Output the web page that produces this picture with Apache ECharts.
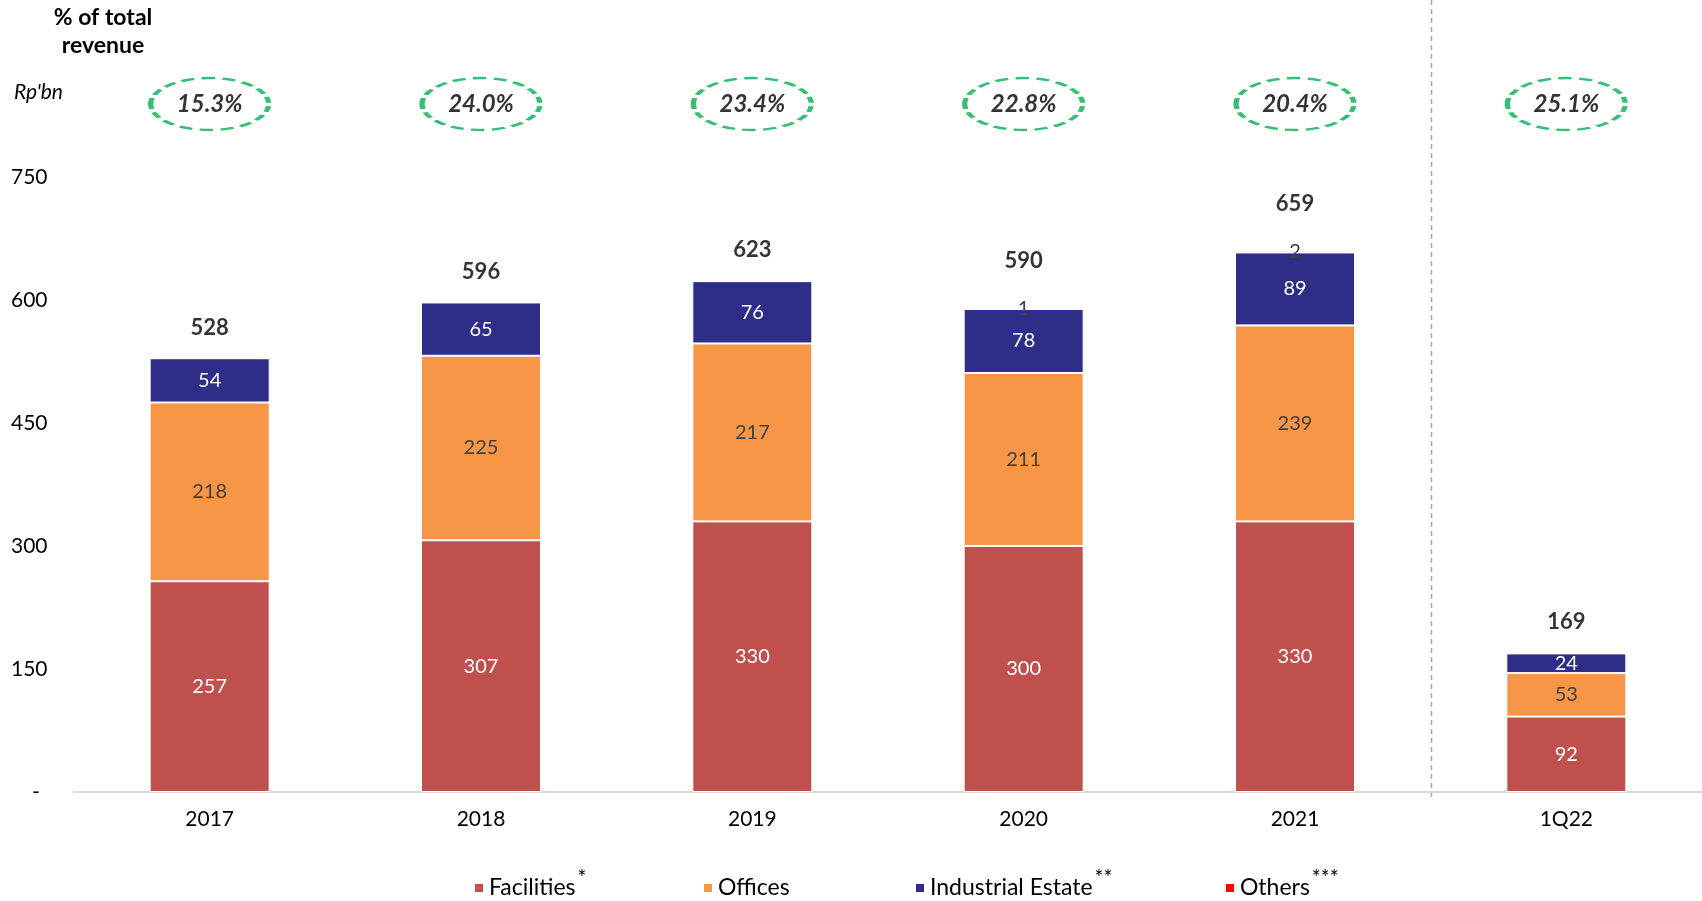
<!DOCTYPE html>
<html>
<head>
<meta charset="utf-8">
<title>Revenue by segment</title>
<script src="https://cdn.jsdelivr.net/npm/echarts@6/dist/echarts.min.js"></script>
<style>
  html, body { margin: 0; padding: 0; background: #fff; }
  #chart { width: 1702px; height: 901px; }
</style>
</head>
<body>
<div id="chart"></div>
<script>
// Segment revenue, Rp'bn
const categories = ['2017', '2018', '2019', '2020', '2021', '1Q22'];
const facilities = [257, 307, 330, 300, 330, 92];
const offices = [218, 225, 217, 211, 239, 53];
const industrial = [54, 65, 76, 78, 89, 24];
const others = [0, 0, 0, 1, 2, 0];
const totals = [528, 596, 623, 590, 659, 169];
// Share of total company revenue, %
const revenueShare = [15.3, 24.0, 23.4, 22.8, 20.4, 25.1];
// Value axis ticks
const yMin = 0, yMax = 750, yStep = 150;

const FONT = 'Lato, "Open Sans", sans-serif';
const colors = {
  Facilities: '#C0504D',
  Offices: '#F79646',
  'Industrial Estate': '#2E2D88',
  Others: '#FF0000'
};
const legendMarks = { Facilities: '*', Offices: '', 'Industrial Estate': '**', Others: '***' };

function segment(name, data, labelColor) {
  return {
    name: name,
    type: 'bar',
    stack: 'rev',
    xAxisIndex: 0,
    yAxisIndex: 0,
    barWidth: 120,
    data: data,
    itemStyle: { color: colors[name], borderColor: '#fff', borderWidth: 1 },
    label: {
      show: true,
      position: 'inside',
      color: labelColor,
      fontFamily: FONT,
      fontSize: 20,
      formatter: p => (p.value ? String(p.value) : '')
    },
    emphasis: { disabled: true }
  };
}

function legendFor(name, left) {
  return {
    data: [name],
    left: left,
    top: 868,
    padding: 0,
    icon: 'rect',
    itemWidth: 10,
    itemHeight: 10,
    selectedMode: false,
    formatter: n => legendMarks[n] ? n + '{sup|' + legendMarks[n] + '}' : n,
    textStyle: {
      fontFamily: FONT,
      fontSize: 23,
      lineHeight: 40,
      color: '#000',
      rich: { sup: { fontFamily: FONT, fontSize: 21, lineHeight: 14, color: '#000', verticalAlign: 'top', padding: [0, 0, 0, 2] } }
    }
  };
}

// Totals sit higher where an "Others" label occupies the top of the column
const totalPoints = totals.map((v, i) => ({
  value: v,
  label: { offset: [0, others[i] > 0 ? -16 : 0] }
}));

const chart = echarts.init(document.getElementById('chart'));

const option = {
  backgroundColor: '#fff',
  animation: false,
  grid: [
    { left: 74, right: 0, top: 177, bottom: 109 },
    { left: 74, right: 0, top: 77, height: 54 }
  ],
  xAxis: [
    {
      type: 'category',
      gridIndex: 0,
      data: categories,
      axisTick: { show: false },
      axisLine: { lineStyle: { color: '#D9D9D9', width: 2 } },
      axisLabel: { color: '#000', fontFamily: FONT, fontSize: 21, margin: 17 }
    },
    { type: 'category', gridIndex: 1, data: categories, show: false }
  ],
  yAxis: [
    {
      type: 'value',
      gridIndex: 0,
      min: yMin,
      max: yMax,
      interval: yStep,
      splitLine: { show: false },
      axisLine: { show: false },
      axisTick: { show: false },
      axisLabel: {
        color: '#000',
        fontFamily: FONT,
        fontSize: 21,
        align: 'left',
        margin: 63,
        formatter: v => (v === 0 ? '{dash|-}' : String(v)),
        rich: { dash: { fontFamily: FONT, fontSize: 21, color: '#000', padding: [0, 0, 0, 21] } }
      }
    },
    { type: 'value', gridIndex: 1, min: 0, max: 1, show: false }
  ],
  legend: [
    legendFor('Facilities', 473),
    legendFor('Offices', 702),
    legendFor('Industrial Estate', 914),
    legendFor('Others', 1224)
  ],
  series: [
    segment('Facilities', facilities, '#fff'),
    segment('Offices', offices, '#404040'),
    segment('Industrial Estate', industrial, '#fff'),
    segment('Others', others, '#404040'),
    {
      name: 'Total',
      type: 'scatter',
      xAxisIndex: 0,
      yAxisIndex: 0,
      data: totalPoints,
      symbolSize: 1,
      itemStyle: { color: 'rgba(0,0,0,0)' },
      label: {
        show: true,
        position: 'top',
        distance: 20,
        color: '#000',
        fontFamily: FONT,
        fontWeight: 'bold',
        fontSize: 22
      },
      emphasis: { disabled: true },
      z: 5
    },
    {
      name: 'Share',
      type: 'scatter',
      xAxisIndex: 1,
      yAxisIndex: 1,
      data: revenueShare.map((v, i) => [categories[i], 0.5, v]),
      symbol: 'path://M0,50 A50,50 0 1,1 100,50 A50,50 0 1,1 0,50 Z',
      symbolKeepAspect: false,
      symbolSize: [118, 52],
      itemStyle: {
        color: 'rgba(0,0,0,0)',
        borderColor: '#00B050',
        borderWidth: 3.5,
        borderType: [9, 5]
      },
      label: {
        show: true,
        position: 'inside',
        color: '#000',
        fontFamily: FONT,
        fontWeight: 'bold',
        fontStyle: 'italic',
        fontSize: 24,
        formatter: p => p.value[2].toFixed(1) + '%'
      },
      emphasis: { disabled: true }
    }
  ]
};

chart.setOption(option);

// Separator between the annual columns and the latest quarter
const xA = chart.convertToPixel({ xAxisIndex: 0 }, '2021');
const xB = chart.convertToPixel({ xAxisIndex: 0 }, '1Q22');
const sepX = Math.round((xA + xB) / 2) + 0.5;

chart.setOption({
  graphic: [
    {
      type: 'line',
      shape: { x1: sepX, y1: 0, x2: sepX, y2: 800 },
      style: { stroke: '#A6A6A6', lineWidth: 1.5, lineDash: [5, 4] },
      silent: true
    },
    {
      type: 'text',
      x: 103,
      y: 4,
      style: {
        text: '% of total\nrevenue',
        textAlign: 'center',
        font: 'bold 23px ' + FONT,
        lineHeight: 28,
        fill: '#000'
      },
      silent: true
    },
    {
      type: 'text',
      x: 14,
      y: 82,
      style: {
        text: "Rp'bn",
        font: 'italic 21px ' + FONT,
        fill: '#000'
      },
      silent: true
    }
  ]
});
</script>
</body>
</html>
